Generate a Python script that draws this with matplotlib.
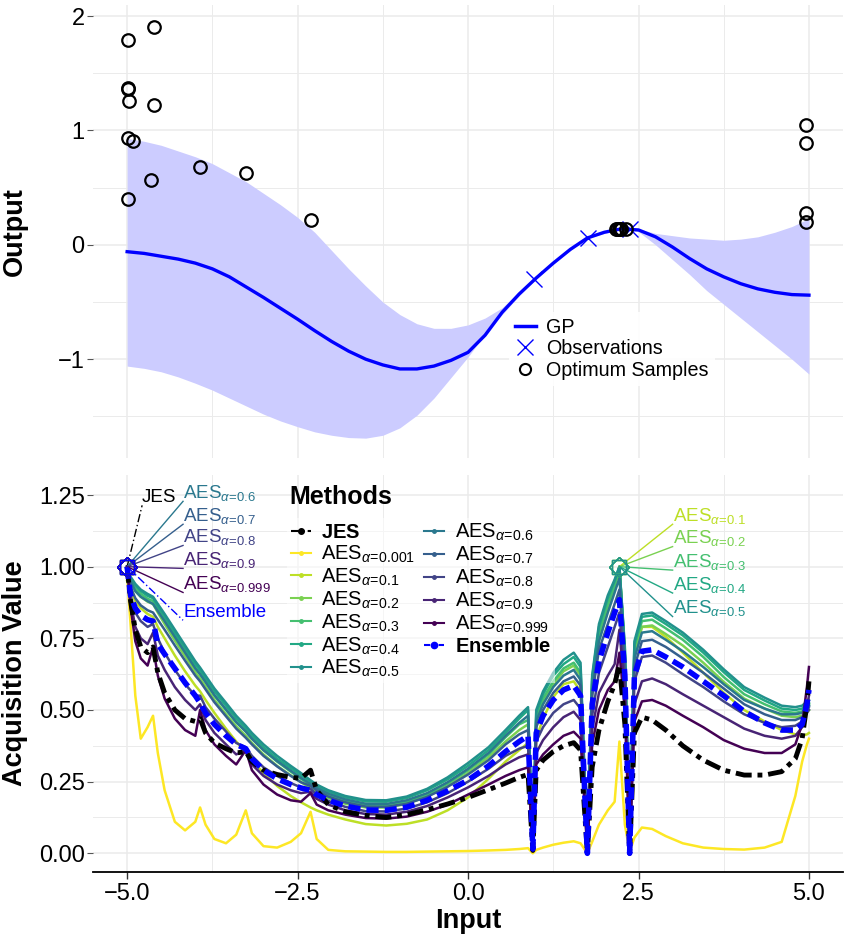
import numpy as np
import matplotlib.pyplot as plt
from matplotlib.lines import Line2D
from matplotlib.ticker import MultipleLocator

plt.rcParams['font.family'] = ['Liberation Sans', 'DejaVu Sans']
plt.rcParams['mathtext.fontset'] = 'custom'
plt.rcParams['mathtext.rm'] = 'Liberation Sans'
plt.rcParams['mathtext.it'] = 'Liberation Sans:italic'
plt.rcParams['mathtext.bf'] = 'Liberation Sans:bold'

# ---- top panel: GP posterior ----
gp_x = [-5.0, -4.75, -4.5, -4.25, -4.0, -3.75, -3.5, -3.25, -3.0, -2.75, -2.5, -2.25,
        -2.0, -1.75, -1.5, -1.25, -1.0, -0.75, -0.5, -0.25, 0.0, 0.25, 0.5, 0.75,
        1.0, 1.25, 1.5, 1.75, 2.0, 2.25, 2.5, 2.75, 3.0, 3.25, 3.5, 3.75, 4.0, 4.25,
        4.5, 4.75, 5.0]
gp_mean = [-0.06, -0.075, -0.10, -0.125, -0.16, -0.21, -0.28, -0.37, -0.46, -0.555, -0.65, -0.75,
           -0.845, -0.93, -1.0, -1.05, -1.085, -1.085, -1.06, -1.01, -0.94, -0.79, -0.59, -0.43,
           -0.29, -0.16, -0.04, 0.06, 0.11, 0.14, 0.13, 0.07, -0.02, -0.12, -0.21, -0.28, -0.34, -0.385,
           -0.415, -0.435, -0.44]
gp_upper = [0.93, 0.905, 0.87, 0.82, 0.77, 0.71, 0.63, 0.55, 0.45, 0.35, 0.24, 0.11,
            -0.05, -0.21, -0.36, -0.50, -0.61, -0.69, -0.73, -0.73, -0.70, -0.64, -0.55, -0.41,
            -0.275, -0.15, -0.03, 0.065, 0.12, 0.145, 0.14, 0.10, 0.08, 0.06, 0.05, 0.04, 0.05, 0.07,
            0.11, 0.16, 0.23]
gp_lower = [-1.06, -1.08, -1.11, -1.155, -1.21, -1.27, -1.34, -1.41, -1.48, -1.54, -1.59, -1.635,
            -1.665, -1.685, -1.69, -1.665, -1.60, -1.49, -1.34, -1.16, -0.98, -0.78, -0.61, -0.445,
            -0.30, -0.17, -0.05, 0.055, 0.10, 0.135, 0.115, 0.0, -0.13, -0.26, -0.40, -0.52, -0.64, -0.76,
            -0.88, -1.0, -1.13]
obs_x = [0.96, 1.76, 2.37]
obs_y = [-0.30, 0.06, 0.14]
opt_x = [-4.99, -4.60, -4.99, -4.99, -4.97, -4.60, -4.99, -4.91, -4.65, -4.99, -3.93, -3.26,
         -2.31, 4.96, 4.96, 4.96, 4.96, 2.17, 2.19, 2.21, 2.23, 2.25, 2.32]
opt_y = [1.79, 1.90, 1.37, 1.36, 1.26, 1.22, 0.93, 0.91, 0.57, 0.40, 0.68, 0.63,
         0.22, 1.05, 0.89, 0.28, 0.20, 0.135, 0.14, 0.14, 0.14, 0.14, 0.135]

# ---- bottom panel: acquisition values ----
acq_x = [-5.0, -4.95, -4.88, -4.8, -4.7, -4.62, -4.55, -4.45, -4.3, -4.15, -4.0, -3.93,
         -3.85, -3.72, -3.55, -3.4, -3.26, -3.17, -3.0, -2.8, -2.6, -2.45, -2.31,
         -2.22, -2.05, -1.8, -1.5, -1.2, -0.9, -0.6, -0.3, 0.0, 0.3, 0.55, 0.75, 0.88,
         0.95, 1.0, 1.1, 1.25, 1.4, 1.55, 1.65, 1.75, 1.82, 1.92, 2.05, 2.15, 2.22, 2.3, 2.37,
         2.44, 2.55, 2.7, 2.9, 3.15, 3.45, 3.75, 4.05, 4.35, 4.6, 4.8, 4.9, 4.97, 5.0]

aes_0001 = [0.97, 0.80, 0.55, 0.40, 0.44, 0.48, 0.35, 0.22, 0.11, 0.08, 0.11, 0.16,
            0.10, 0.05, 0.035, 0.065, 0.15, 0.07, 0.025, 0.02, 0.04, 0.07, 0.145,
            0.05, 0.012, 0.007, 0.006, 0.005, 0.005, 0.006, 0.007, 0.008, 0.01, 0.012, 0.015, 0.018,
            0.0, 0.012, 0.02, 0.03, 0.037, 0.042, 0.035, 0.0, 0.04, 0.10, 0.15, 0.18, 0.39, 0.10, 0.005,
            0.055, 0.09, 0.085, 0.06, 0.035, 0.02, 0.015, 0.013, 0.02, 0.04, 0.20, 0.32, 0.38, 0.40]
aes_01 = [0.95, 0.915, 0.88, 0.855, 0.835, 0.825, 0.79, 0.75, 0.69, 0.635, 0.585, 0.565,
          0.535, 0.49, 0.435, 0.39, 0.35, 0.325, 0.28, 0.235, 0.20, 0.178, 0.16,
          0.15, 0.135, 0.118, 0.102, 0.097, 0.103, 0.118, 0.15, 0.195, 0.26, 0.32, 0.36, 0.385,
          0.01, 0.40, 0.47, 0.545, 0.59, 0.60, 0.565, 0.005, 0.56, 0.74, 0.85, 0.93, 1.0, 0.69, 0.01,
          0.69, 0.79, 0.79, 0.755, 0.70, 0.63, 0.56, 0.50, 0.46, 0.43, 0.415, 0.41, 0.415, 0.42]
aes_02 = [0.97, 0.945, 0.915, 0.895, 0.878, 0.87, 0.84, 0.80, 0.742, 0.687, 0.632, 0.61,
          0.582, 0.535, 0.485, 0.443, 0.41, 0.385, 0.345, 0.305, 0.272, 0.248, 0.228,
          0.213, 0.193, 0.173, 0.16, 0.16, 0.172, 0.198, 0.235, 0.28, 0.335, 0.39, 0.43, 0.45,
          0.01, 0.465, 0.53, 0.59, 0.635, 0.655, 0.62, 0.005, 0.59, 0.755, 0.855, 0.925, 1.0, 0.69, 0.01,
          0.70, 0.79, 0.795, 0.765, 0.725, 0.665, 0.598, 0.54, 0.505, 0.48, 0.475, 0.48, 0.495, 0.50]
aes_03 = [0.975, 0.955, 0.925, 0.905, 0.888, 0.88, 0.852, 0.815, 0.758, 0.703, 0.648, 0.625,
          0.597, 0.55, 0.50, 0.457, 0.425, 0.40, 0.36, 0.32, 0.285, 0.26, 0.238,
          0.223, 0.203, 0.183, 0.168, 0.167, 0.18, 0.205, 0.243, 0.29, 0.345, 0.405, 0.45, 0.465,
          0.01, 0.475, 0.54, 0.60, 0.645, 0.665, 0.63, 0.005, 0.60, 0.77, 0.87, 0.935, 1.0, 0.70, 0.01,
          0.72, 0.81, 0.815, 0.785, 0.745, 0.685, 0.615, 0.555, 0.52, 0.495, 0.49, 0.495, 0.51, 0.52]
aes_04 = [0.98, 0.96, 0.935, 0.915, 0.898, 0.89, 0.862, 0.826, 0.77, 0.715, 0.66, 0.638,
          0.61, 0.565, 0.515, 0.47, 0.435, 0.41, 0.37, 0.33, 0.297, 0.272, 0.25,
          0.235, 0.215, 0.195, 0.181, 0.18, 0.193, 0.22, 0.258, 0.305, 0.36, 0.42, 0.47, 0.50,
          0.01, 0.49, 0.555, 0.62, 0.66, 0.685, 0.65, 0.005, 0.61, 0.79, 0.89, 0.95, 1.0, 0.71, 0.01,
          0.73, 0.825, 0.83, 0.80, 0.76, 0.70, 0.632, 0.57, 0.533, 0.505, 0.50, 0.505, 0.52, 0.525]
aes_05 = [0.985, 0.965, 0.94, 0.92, 0.905, 0.895, 0.87, 0.835, 0.78, 0.725, 0.67, 0.648,
          0.62, 0.575, 0.525, 0.48, 0.445, 0.42, 0.38, 0.34, 0.305, 0.28, 0.255,
          0.24, 0.22, 0.20, 0.186, 0.185, 0.198, 0.225, 0.265, 0.315, 0.37, 0.43, 0.48, 0.51,
          0.01, 0.50, 0.565, 0.63, 0.675, 0.70, 0.665, 0.005, 0.62, 0.80, 0.90, 0.955, 1.0, 0.72, 0.01,
          0.74, 0.835, 0.84, 0.81, 0.77, 0.71, 0.642, 0.58, 0.543, 0.515, 0.51, 0.515, 0.53, 0.535]
aes_06 = [1.0, 0.95, 0.915, 0.895, 0.88, 0.87, 0.845, 0.81, 0.755, 0.70, 0.645, 0.625,
          0.598, 0.552, 0.502, 0.458, 0.425, 0.40, 0.36, 0.322, 0.288, 0.263, 0.242,
          0.228, 0.208, 0.188, 0.173, 0.172, 0.185, 0.21, 0.248, 0.295, 0.35, 0.41, 0.455, 0.48,
          0.01, 0.46, 0.52, 0.58, 0.62, 0.64, 0.605, 0.005, 0.57, 0.74, 0.84, 0.91, 0.96, 0.68, 0.01,
          0.68, 0.77, 0.775, 0.745, 0.705, 0.65, 0.59, 0.535, 0.505, 0.485, 0.485, 0.49, 0.505, 0.515]
aes_07 = [1.0, 0.93, 0.89, 0.865, 0.848, 0.84, 0.815, 0.78, 0.725, 0.672, 0.62, 0.60,
          0.572, 0.527, 0.478, 0.435, 0.403, 0.38, 0.34, 0.303, 0.27, 0.248, 0.235,
          0.22, 0.198, 0.178, 0.163, 0.162, 0.173, 0.197, 0.232, 0.275, 0.325, 0.38, 0.415, 0.43,
          0.01, 0.44, 0.50, 0.56, 0.60, 0.617, 0.585, 0.005, 0.55, 0.71, 0.80, 0.87, 0.92, 0.65, 0.01,
          0.65, 0.74, 0.745, 0.72, 0.68, 0.63, 0.575, 0.52, 0.485, 0.465, 0.465, 0.475, 0.495, 0.51]
aes_08 = [1.0, 0.90, 0.84, 0.81, 0.79, 0.80, 0.75, 0.70, 0.64, 0.59, 0.55, 0.55,
          0.51, 0.47, 0.425, 0.385, 0.37, 0.34, 0.30, 0.27, 0.245, 0.23, 0.225,
          0.205, 0.183, 0.162, 0.147, 0.146, 0.156, 0.178, 0.21, 0.25, 0.295, 0.34, 0.365, 0.375,
          0.01, 0.39, 0.44, 0.49, 0.52, 0.535, 0.505, 0.005, 0.48, 0.63, 0.72, 0.79, 0.84, 0.60, 0.01,
          0.60, 0.685, 0.69, 0.665, 0.625, 0.58, 0.53, 0.485, 0.455, 0.44, 0.445, 0.46, 0.49, 0.50]
aes_09 = [1.0, 0.88, 0.79, 0.75, 0.73, 0.77, 0.69, 0.64, 0.58, 0.535, 0.50, 0.52,
          0.465, 0.42, 0.38, 0.345, 0.36, 0.31, 0.27, 0.24, 0.22, 0.21, 0.215,
          0.19, 0.17, 0.15, 0.137, 0.135, 0.145, 0.165, 0.195, 0.23, 0.27, 0.31, 0.335, 0.345,
          0.01, 0.35, 0.395, 0.44, 0.475, 0.494, 0.465, 0.005, 0.43, 0.56, 0.62, 0.66, 0.78, 0.56, 0.01,
          0.52, 0.60, 0.61, 0.59, 0.555, 0.515, 0.475, 0.435, 0.41, 0.40, 0.41, 0.44, 0.51, 0.55]
aes_0999 = [1.0, 0.86, 0.74, 0.68, 0.655, 0.72, 0.62, 0.54, 0.47, 0.43, 0.41, 0.50,
            0.43, 0.38, 0.34, 0.31, 0.36, 0.29, 0.24, 0.205, 0.185, 0.18, 0.21,
            0.17, 0.15, 0.135, 0.123, 0.121, 0.128, 0.145, 0.17, 0.205, 0.24, 0.27, 0.29, 0.30,
            0.01, 0.31, 0.345, 0.38, 0.41, 0.424, 0.40, 0.005, 0.38, 0.50, 0.57, 0.60, 0.70, 0.50, 0.01,
            0.46, 0.53, 0.535, 0.515, 0.48, 0.44, 0.395, 0.365, 0.35, 0.35, 0.38, 0.45, 0.58, 0.65]
jes = [1.0, 0.88, 0.78, 0.72, 0.70, 0.72, 0.63, 0.56, 0.50, 0.47, 0.46, 0.47,
       0.42, 0.385, 0.365, 0.35, 0.355, 0.32, 0.29, 0.275, 0.265, 0.262, 0.29,
       0.22, 0.17, 0.145, 0.132, 0.125, 0.135, 0.152, 0.172, 0.195, 0.222, 0.245, 0.265, 0.275,
       0.01, 0.29, 0.325, 0.355, 0.375, 0.386, 0.36, 0.0, 0.30, 0.43, 0.53, 0.59, 0.657, 0.45, 0.0,
       0.42, 0.475, 0.465, 0.43, 0.375, 0.325, 0.29, 0.273, 0.273, 0.285, 0.33, 0.40, 0.52, 0.60]
ensemble = [1.0, 0.90, 0.855, 0.83, 0.815, 0.81, 0.73, 0.695, 0.645, 0.595, 0.55, 0.525,
            0.49, 0.45, 0.41, 0.38, 0.365, 0.33, 0.29, 0.26, 0.24, 0.228, 0.22,
            0.205, 0.185, 0.165, 0.151, 0.15, 0.161, 0.185, 0.218, 0.255, 0.305, 0.355, 0.39, 0.41,
            0.015, 0.42, 0.48, 0.535, 0.57, 0.585, 0.55, 0.0, 0.52, 0.67, 0.77, 0.84, 0.885, 0.62, 0.0,
            0.62, 0.705, 0.71, 0.685, 0.65, 0.60, 0.55, 0.495, 0.455, 0.43, 0.43, 0.45, 0.52, 0.57]

alphas = ['0.001', '0.1', '0.2', '0.3', '0.4', '0.5', '0.6', '0.7', '0.8', '0.9', '0.999']
aes_curves = [aes_0001, aes_01, aes_02, aes_03, aes_04, aes_05,
              aes_06, aes_07, aes_08, aes_09, aes_0999]
colors = plt.cm.viridis(np.linspace(1, 0, 11))


def aes_label(a):
    return 'AES$_{\\alpha\\!=\\!' + a + '}$'


def style_axes(ax):
    for s in ax.spines.values():
        s.set_visible(False)
    ax.grid(True, which='major', color='#ebebeb', lw=1.1)
    ax.grid(True, which='minor', color='#ebebeb', lw=0.7)
    ax.set_axisbelow(True)
    ax.tick_params(axis='y', which='major', length=4, width=0.8, color='#555555',
                   labelsize=17, pad=2)
    ax.tick_params(which='minor', length=0)
    ax.xaxis.set_major_locator(MultipleLocator(2.5))
    ax.xaxis.set_minor_locator(MultipleLocator(1.25))
    ax.set_xlim(-5.5, 5.5)


fig = plt.figure(figsize=(8.45, 9.39), dpi=100)
ax1 = fig.add_axes([0.1101, 0.5122, 0.8876, 0.4824])
ax2 = fig.add_axes([0.1101, 0.0714, 0.8876, 0.4228])

# top panel
style_axes(ax1)
ax1.fill_between(gp_x, gp_lower, gp_upper, color='#ccccff', lw=0)
ax1.plot(gp_x, gp_mean, color='blue', lw=2.4)
ax1.plot(obs_x, obs_y, ls='none', marker='x', ms=11, mew=1.0, color='blue')
ax1.plot(opt_x, opt_y, ls='none', marker='o', ms=9, mfc='none', mec='black', mew=1.6)
ax1.set_ylim(-1.864, 2.096)
ax1.yaxis.set_major_locator(MultipleLocator(1))
ax1.yaxis.set_minor_locator(MultipleLocator(0.5))
ax1.tick_params(axis='x', which='both', length=0, labelbottom=False)
ax1.set_ylabel('Output', fontsize=19.5, fontweight='bold')
ax1.yaxis.set_label_coords(-0.087, 0.5)

h_gp = Line2D([], [], color='blue', lw=2.5)
h_obs = Line2D([], [], color='blue', ls='none', marker='x', ms=11, mew=1.0)
h_opt = Line2D([], [], color='black', ls='none', marker='o', ms=8, mfc='none', mew=1.5)
ax1.legend([h_gp, h_obs, h_opt], ['GP', 'Observations', 'Optimum Samples'],
           loc='upper left', bbox_to_anchor=(0.541, 0.345), fontsize=14.2,
           frameon=True, facecolor='white', edgecolor='none', framealpha=0.9,
           fancybox=False, handlelength=1.1, handletextpad=0.5,
           labelspacing=0.14, borderpad=0.3)

# bottom panel
style_axes(ax2)
for vals, col in zip(aes_curves, colors):
    ax2.plot(acq_x, vals, color=col, lw=1.8)
ax2.plot(acq_x, jes, color='black', lw=3.5, ls=(0, (3.3, 1.2, 1.0, 1.2)))
ax2.plot(acq_x, ensemble, color='blue', lw=4, ls=(0, (2.2, 1.1)))
ax2.set_ylim(-0.065, 1.32)
ax2.yaxis.set_major_locator(MultipleLocator(0.25))
ax2.yaxis.set_minor_locator(MultipleLocator(0.125))
ax2.yaxis.set_major_formatter(lambda v, p: f'{v:.2f}')
ax2.xaxis.set_major_formatter(lambda v, p: f'{v:.1f}'.replace('-', '\u2212'))
ax2.spines['bottom'].set_visible(True)
ax2.spines['bottom'].set_color('black')
ax2.spines['bottom'].set_linewidth(1.3)
ax2.tick_params(axis='x', which='major', length=5, width=1, color='#333333',
                labelsize=17, pad=3)
ax2.set_ylabel('Acquisition Value', fontsize=19.5, fontweight='bold')
ax2.yaxis.set_label_coords(-0.087, 0.5)
ax2.set_xlabel('Input', fontsize=19.5, fontweight='bold', labelpad=2)

# peak markers and repelled labels
left_peak = (-5.0, 1.0)
right_peak = (2.22, 1.0)
left_items = [('JES', 'black', -4.78, 1.226, (0, (6, 2, 1, 2))),
              (aes_label('0.6'), colors[6], -4.18, 1.240, '-'),
              (aes_label('0.7'), colors[7], -4.18, 1.160, '-'),
              (aes_label('0.8'), colors[8], -4.18, 1.086, '-'),
              (aes_label('0.9'), colors[9], -4.18, 1.006, '-'),
              (aes_label('0.999'), colors[10], -4.18, 0.922, '-'),
              ('Ensemble', 'blue', -4.18, 0.825, (0, (6, 2, 1, 2)))]
right_items = [(aes_label('0.1'), colors[1], 3.0, 1.160),
               (aes_label('0.2'), colors[2], 3.0, 1.082),
               (aes_label('0.3'), colors[3], 3.0, 1.000),
               (aes_label('0.4'), colors[4], 3.0, 0.920),
               (aes_label('0.5'), colors[5], 3.0, 0.838)]

for lab, col, tx, ty, ls in left_items:
    ax2.plot([left_peak[0], tx], [left_peak[1], ty - 0.012], color=col, lw=1.0, ls=ls)
    ax2.plot(*left_peak, marker='s', ms=10, mfc='none', mec=col, mew=0.9)
    ax2.plot(*left_peak, marker='D', ms=10, mfc='none', mec=col, mew=0.9)
    ax2.text(tx, ty, lab, color=col, fontsize=13.5, ha='left', va='baseline')
for lab, col, tx, ty in right_items:
    ax2.plot([right_peak[0], tx], [right_peak[1], ty - 0.012], color=col, lw=1.0)
    ax2.plot(*right_peak, marker='s', ms=10, mfc='none', mec=col, mew=0.9)
    ax2.plot(*right_peak, marker='D', ms=10, mfc='none', mec=col, mew=0.9)
    ax2.text(tx, ty, lab, color=col, fontsize=13.5, ha='left', va='baseline')

# legend of methods
handles = [Line2D([], [], color='black', lw=1.5, ls=(0, (4, 1.5, 1, 1.5)), marker='o', ms=4)]
labels = ['$\\mathbf{JES}$']
for a, col in zip(alphas, colors):
    handles.append(Line2D([], [], color=col, lw=1.5, marker='o', ms=2.5))
    labels.append(aes_label(a))
handles.append(Line2D([], [], color='blue', lw=1.5, ls=(0, (3, 1.5, 1, 1.5)), marker='o', ms=4.5))
labels.append('$\\mathbf{Ensemble}$')
ax2.text(0.262, 0.945, 'Methods', transform=ax2.transAxes, fontsize=18,
         fontweight='bold', ha='left', va='center', zorder=6)
ax2.legend(handles, labels, loc='upper left', bbox_to_anchor=(0.245, 0.917), ncol=2,
           fontsize=14.5, frameon=True, facecolor='white', edgecolor='none', framealpha=0.55,
           fancybox=False, handlelength=1.0, handletextpad=0.5, columnspacing=0.45,
           labelspacing=0.08, borderpad=0.2)

fig.savefig('out.png', dpi=100)
